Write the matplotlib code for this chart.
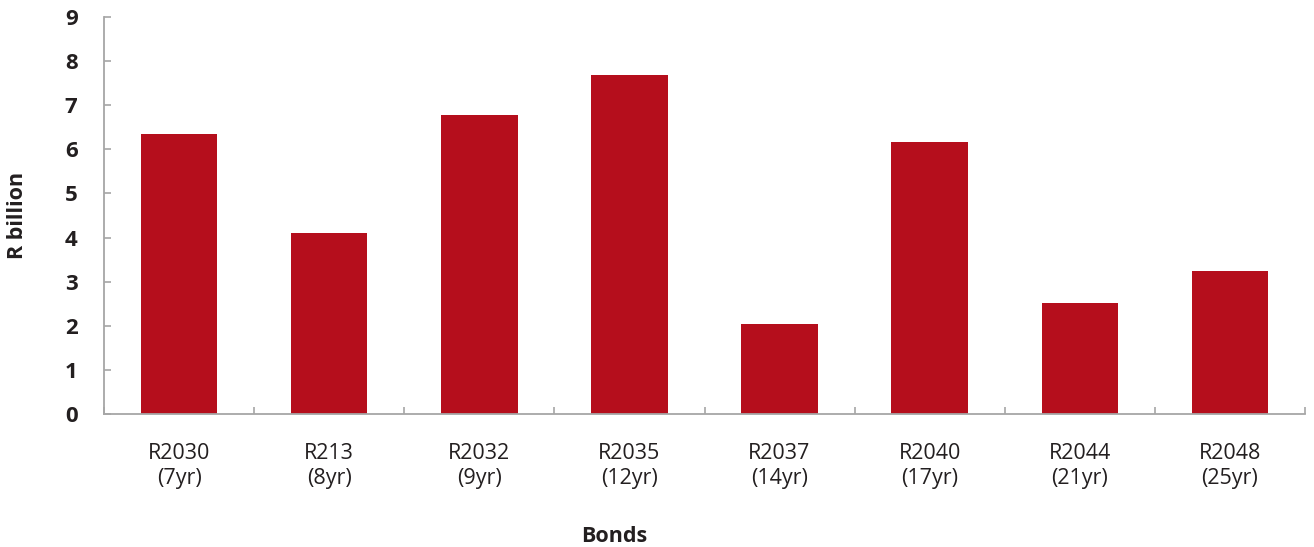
import matplotlib
matplotlib.use("Agg")
import matplotlib.pyplot as plt
import numpy as np

# Bond issuance by instrument (R billion)
bonds = ["R2030", "R213", "R2032", "R2035", "R2037", "R2040", "R2044", "R2048"]
tenors = ["7yr", "8yr", "9yr", "12yr", "14yr", "17yr", "21yr", "25yr"]
amounts = [6.35, 4.10, 6.78, 7.69, 2.04, 6.17, 2.52, 3.24]
y_ticks = list(range(0, 10))

BAR_RED = "#B50E1C"
AXIS_GREY = "#A6A6A6"
TEXT_DARK = "#231F20"

plt.rcParams["font.family"] = ["Open Sans", "DejaVu Sans"]

fig = plt.figure(figsize=(13.14, 5.47), dpi=100)
ax = fig.add_axes([104 / 1314, 1 - 414 / 547, (1305 - 104) / 1314, (414 - 17) / 547])

x = np.arange(len(bonds))
ax.bar(x, amounts, width=0.51, color=BAR_RED, zorder=2)

ax.set_xlim(-0.5, len(bonds) - 0.5)
ax.set_ylim(0, 9)

ax.spines["top"].set_visible(False)
ax.spines["right"].set_visible(False)
for side in ("left", "bottom"):
    ax.spines[side].set_color(AXIS_GREY)
    ax.spines[side].set_linewidth(1.3)

# category labels centred under bars, separator ticks between categories
ax.set_xticks(x)
ax.set_xticklabels([f"{b}\n({t})" for b, t in zip(bonds, tenors)],
                   fontsize=15.5, color=TEXT_DARK, linespacing=1.25)
ax.tick_params(axis="x", which="major", length=0, pad=21)
ax.set_xticks(np.arange(-0.5, len(bonds), 1.0), minor=True)
ax.tick_params(axis="x", which="minor", direction="in", length=5,
               width=1.2, color=AXIS_GREY)

ax.set_yticks(y_ticks)
ax.set_yticklabels([str(v) for v in y_ticks], fontsize=16, fontweight="bold",
                   color=TEXT_DARK)
ax.tick_params(axis="y", direction="in", length=5, width=1.2,
               color=AXIS_GREY, pad=19)

fig.text(614 / 1314, 1 - 537 / 547, "Bonds", ha="center", va="center",
         fontsize=15.5, fontweight="bold", color=TEXT_DARK)
fig.text(18 / 1314, 1 - 215 / 547, "R billion", ha="center", va="center",
         rotation=90, fontsize=15.5, fontweight="bold", color=TEXT_DARK)

fig.savefig("out.png", dpi=100)
